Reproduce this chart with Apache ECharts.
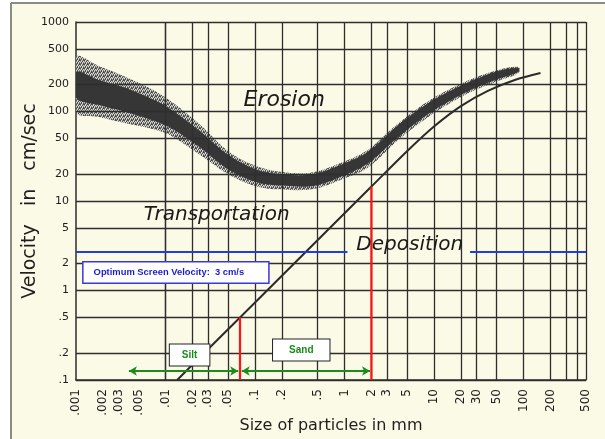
<!DOCTYPE html>
<html><head><meta charset="utf-8">
<script src="https://cdn.jsdelivr.net/npm/echarts@6/dist/echarts.min.js"></script>
<style>html,body{margin:0;padding:0;background:#fff;}#c{width:605px;height:439px;}</style>
</head><body><div id="c"></div>
<script>
// ---- axes ----
const xTickValues = [0.001,0.002,0.003,0.005,0.01,0.02,0.03,0.05,0.1,0.2,0.5,1,2,3,5,10,20,30,50,100,200,500];
const xTickLabels = ['.001','.002','.003','.005','.01','.02','.03','.05','.1','.2','.5','1','2','3','5','10','20','30','50','100','200','500'];
const xGridValues = [0.001,0.002,0.003,0.005,0.01,0.02,0.03,0.05,0.1,0.2,0.5,1,2,3,5,10,20,30,50,100,200,300,400,500];
const yTickValues = [0.1,0.2,0.5,1,2,5,10,20,50,100,200,500,1000];
const yTickLabels = ['.1','.2','.5','1','2','5','10','20','50','100','200','500','1000'];

// ---- erosion band (size mm, velocity cm/s) ----
const erosionSize       = [0.001,0.0018,0.0036,0.0066,0.011,0.024,0.052,0.11,0.25,0.45,0.9,1.8,4,9,22,52,88];
const erosionHaloUpper  = [406,322,243,183,134,72,35,24,20.6,21,26.6,37,74,134,214,291,314];
const erosionCoreUpper  = [276,225,183,142,109,61,32,22,19.5,20,25.3,35,71,128,203,284,306];
const erosionCoreLower  = [142,118,99,82,67,40,22,16,14.7,14.7,18.5,26,52,96,161,231,276];
const erosionHaloLower  = [99,87,74,65,55,33,19.5,14.3,13.3,13.6,17.2,23.4,48,89,153,219,269];

// ---- deposition / transport boundary ----
const depositionSize     = [0.0135,0.068,2,5,10,20,40,80,155];
const depositionVelocity = [0.1,0.5,14.5,36,68,115,170,225,269];

// ---- class boundaries and screen velocity ----
const siltSandBoundary = 0.068;     // mm
const siltSandTop = 0.5;            // cm/s
const sandGravelBoundary = 2;       // mm
const sandGravelTop = 14.5;         // cm/s
const clayBoundary = 0.0039;        // mm
const arrowVelocity = 0.126;        // cm/s
const screenVelocity = 2.7;         // cm/s
const screenLineLeft = [0.001, 1.08];
const screenLineRight = [25.3, 500];
const yMin = 0.1, yMax = 1000, xMin = 0.001, xMax = 500;

// ---- annotation texts ----
const regionTexts = ['Erosion','Transportation','Deposition'];
const regionTextSize = [0.212, 0.0374, 5.37];
const regionTextVelocity = [134, 6.98, 3.22];
const regionTextFont = [22, 20, 20];
const boxTexts = ['Silt','Sand'];
const boxTextSize = [0.0186, 0.329];
const boxTextVelocity = [0.19, 0.216];
const screenText = 'Optimum Screen Velocity:  3 cm/s';
const screenTextAt = [0.0012, 1.59];

function pairs(xs, ys){ return xs.map((x,i)=>[x, ys[i]]); }
function xLabel(v){ for(let i=0;i<xTickValues.length;i++){ if(Math.abs(v/xTickValues[i]-1)<1e-6) return xTickLabels[i]; } return ''; }
function yLabel(v){ for(let i=0;i<yTickValues.length;i++){ if(Math.abs(v/yTickValues[i]-1)<1e-6) return yTickLabels[i]; } return ''; }

// stipple pattern for the band halo
const pat = document.createElement('canvas'); pat.width = 4; pat.height = 4;
const pg = pat.getContext('2d');
pg.fillStyle = '#d6d6cf'; pg.fillRect(0,0,4,4);
pg.fillStyle = '#4a4a4a';
[[0,0],[2,1],[1,2],[3,3],[3,0],[1,3]].forEach(p=>pg.fillRect(p[0],p[1],1,1));
pg.fillStyle = '#8a8a86';
[[2,0],[0,1],[3,2],[0,3]].forEach(p=>pg.fillRect(p[0],p[1],1,1));

function band(upper, lower, fill, z){
  return {
    type:'custom', z:z, silent:true, clip:true, animation:false,
    data:[[erosionSize[0], upper[0]]],
    renderItem:function(params, api){
      const pts = [];
      for(let i=0;i<erosionSize.length;i++) pts.push(api.coord([erosionSize[i], upper[i]]));
      for(let i=erosionSize.length-1;i>=0;i--) pts.push(api.coord([erosionSize[i], lower[i]]));
      return {type:'polygon', shape:{points:pts, smooth:0.35}, style:{fill:fill}};
    }
  };
}
const hidden = {color:'rgba(0,0,0,0)', opacity:1};

const gridColor = '#2e2e2e';
const chart = echarts.init(document.getElementById('c'), null, {renderer:'canvas'});
chart.setOption({
  animation:false,
  backgroundColor:'#fff',
  graphic:[
    {type:'rect', left:11, top:3, shape:{width:594, height:436}, style:{fill:'#fbfae6'}, z:-10, silent:true},
    {type:'line', shape:{x1:11, y1:3, x2:11, y2:439}, style:{stroke:'#8c8c84', lineWidth:2}, z:-9, silent:true},
    {type:'line', shape:{x1:11, y1:3, x2:605, y2:3}, style:{stroke:'#8c8c84', lineWidth:2}, z:-9, silent:true}
  ],
  grid:{left:76, right:19, top:22, bottom:59, containLabel:false, outerBoundsMode:'none'},
  xAxis:{
    type:'log', logBase:10, min:xMin, max:xMax,
    name:'Size of particles in mm', nameLocation:'middle', nameGap:38, nameMoveOverlap:false,
    nameTextStyle:{fontFamily:'DejaVu Sans', fontSize:16, color:'#1e1e1e'},
    axisLine:{show:true, lineStyle:{color:gridColor, width:1.5}},
    axisTick:{show:false}, splitLine:{show:false}, minorTick:{show:false},
    axisLabel:{customValues:xTickValues, rotate:90, margin:9, fontFamily:'DejaVu Sans', fontSize:12, color:'#1c1c1c', formatter:xLabel}
  },
  yAxis:{
    type:'log', logBase:10, min:yMin, max:yMax,
    name:'Velocity   in   cm/sec', nameLocation:'middle', nameGap:36, nameRotate:90, nameMoveOverlap:false,
    nameTextStyle:{fontFamily:'DejaVu Sans', fontSize:19, color:'#1e1e1e'},
    axisLine:{show:true, lineStyle:{color:gridColor, width:1.5}},
    axisTick:{show:false}, splitLine:{show:false}, minorTick:{show:false},
    axisLabel:{customValues:yTickValues, margin:7, fontFamily:'DejaVu Sans', fontSize:11, color:'#1c1c1c', formatter:yLabel}
  },
  series:[
    {
      type:'line', data:[], z:1, silent:true,
      markLine:{
        silent:true, symbol:['none','none'], label:{show:false}, animation:false,
        lineStyle:{color:gridColor, width:1.3, type:'solid'},
        emphasis:{disabled:true},
        data: xGridValues.map(v=>({xAxis:v})).concat(yTickValues.map(v=>({yAxis:v})))
      }
    },
    band(erosionHaloUpper, erosionHaloLower, {image:pat, repeat:'repeat'}, 2),
    band(erosionCoreUpper, erosionCoreLower, '#363636', 3),
    {
      type:'line', z:4, silent:true, showSymbol:false, smooth:0.3,
      data:pairs(depositionSize, depositionVelocity),
      lineStyle:{color:'#2a2a2a', width:2}
    },
    {
      type:'line', z:5, silent:true, showSymbol:false,
      data:[[siltSandBoundary, yMin],[siltSandBoundary, siltSandTop]],
      lineStyle:{color:'#ff1414', width:2.2}
    },
    {
      type:'line', z:5, silent:true, showSymbol:false,
      data:[[sandGravelBoundary, yMin],[sandGravelBoundary, sandGravelTop]],
      lineStyle:{color:'#ff1414', width:2.2}
    },
    {
      type:'line', z:5, silent:true, showSymbol:false,
      data:[[screenLineLeft[0], screenVelocity],[screenLineLeft[1], screenVelocity]],
      lineStyle:{color:'#1f3ee0', width:2}
    },
    {
      type:'line', z:5, silent:true, showSymbol:false,
      data:[[screenLineRight[0], screenVelocity],[screenLineRight[1], screenVelocity]],
      lineStyle:{color:'#1f3ee0', width:2}
    },
    {
      type:'line', data:[], z:6, silent:true,
      markLine:{
        silent:true, symbol:['arrow','arrow'], symbolSize:[7,8], label:{show:false}, animation:false,
        lineStyle:{color:'#1c8c1c', width:2, type:'solid'}, emphasis:{disabled:true},
        data:[
          [{coord:[clayBoundary, arrowVelocity]},{coord:[siltSandBoundary*0.955, arrowVelocity]}],
          [{coord:[siltSandBoundary*1.045, arrowVelocity]},{coord:[sandGravelBoundary*0.965, arrowVelocity]}]
        ]
      }
    },
    {
      type:'scatter', z:7, silent:true, symbolSize:1, itemStyle:hidden,
      data: regionTexts.map((t,i)=>({value:[regionTextSize[i], regionTextVelocity[i]], name:t, label:{fontSize:regionTextFont[i]}})),
      label:{show:true, position:'inside', formatter:p=>p.name, fontFamily:'DejaVu Sans', fontStyle:'italic', fontSize:20, color:'#1a1a1a', textBorderWidth:0}
    },
    {
      type:'scatter', z:8, silent:true, symbolSize:1, itemStyle:hidden,
      data: boxTexts.map((t,i)=>({value:[boxTextSize[i], boxTextVelocity[i]], name:t, label:{padding: i===0 ? [6,12,5,12] : [6,16,5,16]}})),
      label:{show:true, position:'inside', formatter:p=>p.name, fontFamily:'Liberation Sans', fontWeight:'bold', fontSize:10, color:'#1a8a1a',
        backgroundColor:'#ffffff', borderColor:'#222', borderWidth:1, padding:[6,12,5,12], textBorderWidth:0}
    },
    {
      type:'scatter', z:8, silent:true, symbolSize:1, itemStyle:hidden,
      data:[{value:screenTextAt, name:screenText}],
      label:{show:true, position:'right', distance:0, formatter:p=>p.name, fontFamily:'Liberation Sans', fontWeight:'bold', fontSize:9.4, color:'#1a1ad0',
        backgroundColor:'#ffffff', borderColor:'#3838d8', borderWidth:1.5, padding:[6,24,5,10], textBorderWidth:0}
    }
  ]
});
</script></body></html>
